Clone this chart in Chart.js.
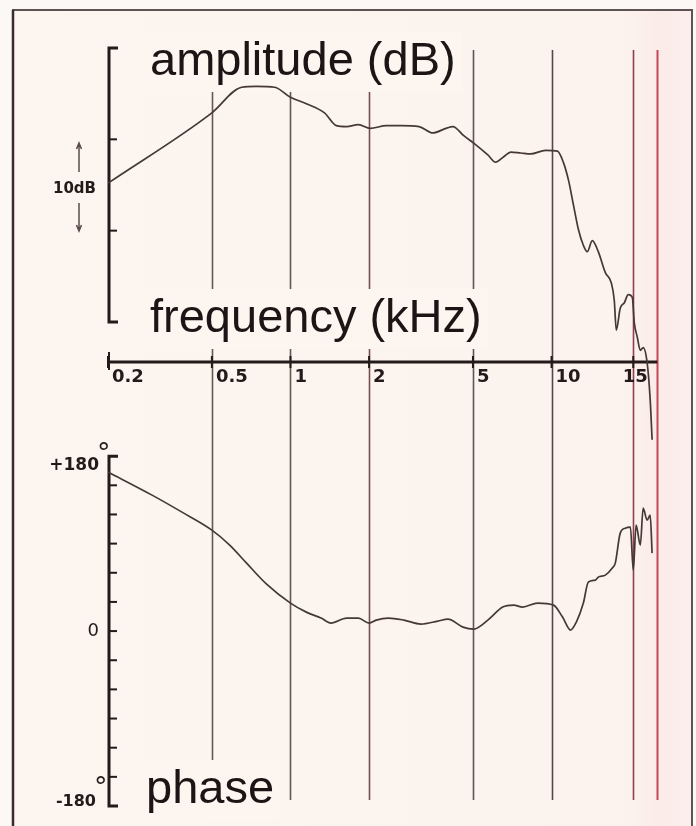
<!DOCTYPE html>
<html>
<head>
<meta charset="utf-8">
<title>amplitude / phase</title>
<script src="https://cdn.jsdelivr.net/npm/chart.js@4.4.1/dist/chart.umd.min.js"></script>
<style>
  html, body { margin: 0; padding: 0; background: #fbf8f5; }
  canvas { display: block; }
</style>
</head>
<body>
<canvas id="plot" width="696" height="826"></canvas>
<script>
'use strict';

// amplitude response, kHz / dB
const ampKHz = [0.2, 0.5, 0.65, 0.74, 0.87, 1.0, 1.15, 1.35, 1.5, 1.64, 1.82, 2.02, 2.33, 2.65, 3.11,
  3.51, 3.94, 4.19, 4.61, 5.13, 5.7, 6.11, 6.56, 6.98, 7.62, 8.32, 9.49, 10.3, 10.6, 10.88, 11.15,
  11.43, 11.71, 11.94, 12.24, 12.61, 13.06, 13.45, 13.65, 13.79, 14.06, 14.35, 14.63, 14.93, 15.19,
  15.72, 16.32, 16.89, 17.7, 18.37, 18.8];
const ampDb = [15.2, 22.9, 25.7, 25.8, 25.7, 24.6, 23.9, 22.9, 21.5, 21.4, 21.6, 21.2, 21.5, 21.5, 21.4,
  20.7, 21.2, 21.4, 20.4, 19.4, 18.3, 17.5, 18.1, 18.6, 18.5, 18.4, 18.8, 18.7, 17.5, 15.5, 12.8,
  10.1, 8.4, 7.7, 8.9, 7.7, 5.4, 4.3, 2.4, -0.9, 1.5, 2.1, 3.0, 2.7, -0.1,
  -1.6, -3.1, -2.8, -4.4, -8.5, -12.9];

// phase response, kHz / degrees
const phaseKHz = [0.2, 0.295, 0.384, 0.5, 0.585, 0.679, 0.81, 1.0, 1.15, 1.31, 1.43, 1.64, 1.82, 2.0,
  2.13, 2.37, 2.72, 3.16, 3.67, 4.01, 4.58, 5.04, 5.7, 6.5, 7.16, 7.75, 8.84, 10.1, 10.56, 10.99,
  11.31, 11.71, 12.0, 12.43, 12.61, 13.06, 13.52, 13.72, 14.06, 14.41, 14.79, 15.0, 15.52, 16.32,
  16.89, 17.7, 18.37, 18.8];
const phaseDeg = [163.6, 139.9, 122.4, 103.9, 88.5, 69.9, 48.3, 28.8, 19.5, 13.4, 8.2, 13.4, 13.4, 8.2,
  11.3, 13.4, 11.3, 7.2, 10.3, 12.3, 4.1, 2.1, 11.3, 24.7, 26.7, 24.7, 28.8, 26.7, 14.4, 1.0,
  9.3, 28.8, 50.4, 52.5, 55.5, 57.6, 64.8, 69.9, 100.8, 105.9, 107.0, 62.7, 109.0, 88.5,
  126.5, 114.2, 119.3, 80.2];

// frequency axis
const tickKHz = [0.2, 0.5, 1, 2, 5, 10, 15];
const tickLabels = ['0.2', '0.5', '1', '2', '5', '10', '15'];
const gridKHz = [0.5, 1, 2, 5, 10, 15, 20];
const gridColors = ['#66574f', '#63554f', '#73504f', '#62535a', '#544745', '#8e4049', '#c64857'];

// amplitude axis: 30 dB, ticks every 10 dB
const ampTicks = [0, 10, 20, 30];
// phase axis: -180..+180, ticks every 30 degrees
const phaseTicks = [-180, -150, -120, -90, -60, -30, 0, 30, 60, 90, 120, 150, 180];

// the recorder paper is log up to 10 kHz, the top end is spread out
const paperKHz = [10, 15, 20];
const paperPos = [1, 1.313, 1.405];

function paperX(f) {
  if (f <= paperKHz[0]) return Math.log10(f);
  for (let i = 1; i < paperKHz.length; i++) {
    if (f <= paperKHz[i] || i === paperKHz.length - 1) {
      const a = Math.log10(paperKHz[i - 1]);
      const b = Math.log10(paperKHz[i]);
      return paperPos[i - 1] + (Math.log10(f) - a) / (b - a) * (paperPos[i] - paperPos[i - 1]);
    }
  }
}

function toPoints(xs, ys) {
  return xs.map((f, i) => ({ x: paperX(f), y: ys[i] }));
}

const INK = '#241a1a';
const TITLE_FONT = '47px "Liberation Sans", Arial, sans-serif';

// title with a paper-coloured box behind it so grid lines stop short of it
function title(ctx, text, x, baseline, bg) {
  ctx.font = TITLE_FONT;
  const w = ctx.measureText(text).width;
  ctx.fillStyle = bg;
  ctx.fillRect(x - 6, baseline - 43, w + 12, 60);
  ctx.fillStyle = '#1c1515';
  ctx.textAlign = 'left';
  ctx.textBaseline = 'alphabetic';
  ctx.fillText(text, x, baseline);
}

// vertical bracket axis with ticks pointing inwards
function bracketAxis(ctx, x, scale, ticks) {
  const top = scale.getPixelForValue(ticks[ticks.length - 1]);
  const bottom = scale.getPixelForValue(ticks[0]);
  ctx.strokeStyle = INK;
  ctx.lineWidth = 3;
  ctx.beginPath();
  ctx.moveTo(x + 9, top);
  ctx.lineTo(x, top);
  ctx.lineTo(x, bottom);
  ctx.lineTo(x + 9, bottom);
  ctx.stroke();
  ctx.lineWidth = 2;
  ticks.slice(1, -1).forEach(v => {
    const y = scale.getPixelForValue(v);
    ctx.beginPath();
    ctx.moveTo(x, y);
    ctx.lineTo(x + 8, y);
    ctx.stroke();
  });
}

function arrow(ctx, x, y0, y1) {
  const dir = y1 < y0 ? -1 : 1;
  ctx.beginPath();
  ctx.moveTo(x, y0);
  ctx.lineTo(x, y1);
  ctx.moveTo(x - 2.5, y1 - dir * 6);
  ctx.lineTo(x, y1);
  ctx.lineTo(x + 2.5, y1 - dir * 6);
  ctx.stroke();
}

const paperPlugin = {
  id: 'paper',
  beforeDraw(chart) {
    const ctx = chart.ctx;
    ctx.save();
    ctx.fillStyle = '#fbf8f5';
    ctx.fillRect(0, 0, chart.width, chart.height);
    const g = ctx.createLinearGradient(13, 0, 692, 0);
    g.addColorStop(0, '#fcf5f0');
    g.addColorStop(0.9, '#fcf3ee');
    g.addColorStop(0.95, '#fbebe9');
    g.addColorStop(1, '#fbefec');
    ctx.fillStyle = g;
    ctx.fillRect(13, 10, 679, chart.height - 10);

    // frame
    ctx.lineWidth = 2;
    ctx.strokeStyle = '#5e5353';
    ctx.beginPath();
    ctx.moveTo(13, chart.height);
    ctx.lineTo(13, 10);
    ctx.lineTo(692, 10);
    ctx.lineTo(692, chart.height);
    ctx.stroke();
    ctx.lineWidth = 2.5;
    ctx.strokeStyle = '#3a2c2c';
    ctx.beginPath();
    ctx.moveTo(13, 10);
    ctx.lineTo(13, chart.height);
    ctx.stroke();
    ctx.restore();
  },
  beforeDatasetsDraw(chart) {
    const ctx = chart.ctx;
    const xs = chart.scales.x;
    const ya = chart.scales.yAmp;
    const yp = chart.scales.yPhase;
    const bg = '#fcf5f0';
    ctx.save();

    // vertical frequency lines
    const gridTop = ya.getPixelForValue(30) + 2;
    const gridBottom = yp.getPixelForValue(-180) - 6;
    gridKHz.forEach((f, i) => {
      const x = Math.round(xs.getPixelForValue(paperX(f))) + 0.5;
      ctx.strokeStyle = gridColors[i];
      ctx.lineWidth = i === gridKHz.length - 1 ? 2 : 1.6;
      ctx.beginPath();
      ctx.moveTo(x, gridTop);
      ctx.lineTo(x, gridBottom);
      ctx.stroke();
    });

    title(ctx, 'amplitude (dB)', 150, 75, bg);
    title(ctx, 'frequency (kHz)', 150, 332, bg);
    title(ctx, 'phase', 146, 803, bg);

    // amplitude and phase axes
    const axisX = xs.left + 1;
    bracketAxis(ctx, axisX, ya, ampTicks);
    bracketAxis(ctx, axisX, yp, phaseTicks);

    // 10 dB scale marker
    ctx.fillStyle = INK;
    ctx.strokeStyle = '#5a4c4a';
    ctx.lineWidth = 1.5;
    arrow(ctx, 79, 172, 143);
    arrow(ctx, 79, 203, 231);
    ctx.font = 'bold 15px "DejaVu Sans", sans-serif';
    ctx.textAlign = 'right';
    ctx.textBaseline = 'middle';
    ctx.fillText('10dB', 96, 189);

    // phase labels
    ctx.font = 'bold 17px "DejaVu Sans", sans-serif';
    ctx.textBaseline = 'alphabetic';
    ctx.fillText('+180', 99, yp.getPixelForValue(180) + 14);
    ctx.font = 'bold 16px "DejaVu Sans", sans-serif';
    ctx.fillText('-180', 96, yp.getPixelForValue(-180));
    ctx.font = '18px "DejaVu Sans", sans-serif';
    ctx.textBaseline = 'middle';
    ctx.fillText('0', 99, yp.getPixelForValue(0));
    ctx.font = '27px "DejaVu Sans", sans-serif';
    ctx.textAlign = 'left';
    ctx.textBaseline = 'top';
    ctx.fillText('°', 97, yp.getPixelForValue(180) - 15);
    ctx.fillText('°', 94, yp.getPixelForValue(-180) - 31);

    // frequency axis across the middle
    const axisY = 362;
    const xEnd = xs.getPixelForValue(paperX(20));
    ctx.strokeStyle = INK;
    ctx.lineWidth = 3;
    ctx.beginPath();
    ctx.moveTo(axisX - 1, axisY);
    ctx.lineTo(xEnd, axisY);
    ctx.stroke();
    ctx.lineWidth = 2;
    ctx.beginPath();
    ctx.moveTo(axisX, axisY - 10);
    ctx.lineTo(axisX, axisY + 8);
    ctx.stroke();
    ctx.font = 'bold 18px "DejaVu Sans", sans-serif';
    ctx.textBaseline = 'top';
    tickKHz.forEach((f, i) => {
      const x = xs.getPixelForValue(paperX(f));
      ctx.beginPath();
      ctx.moveTo(x, axisY - 6);
      ctx.lineTo(x, axisY + 6);
      ctx.stroke();
      const last = i === tickKHz.length - 1;
      ctx.textAlign = last ? 'center' : 'left';
      ctx.fillText(tickLabels[i], last ? x + 2 : x + 4, axisY + 6);
    });
    ctx.restore();
  }
};

const lineStyle = {
  borderColor: '#453835',
  borderWidth: 1.7,
  pointRadius: 0,
  cubicInterpolationMode: 'monotone',
  fill: false
};

new Chart(document.getElementById('plot'), {
  type: 'line',
  data: {
    datasets: [
      Object.assign({ label: 'amplitude', data: toPoints(ampKHz, ampDb), yAxisID: 'yAmp' }, lineStyle),
      Object.assign({ label: 'phase', data: toPoints(phaseKHz, phaseDeg), yAxisID: 'yPhase' }, lineStyle)
    ]
  },
  options: {
    responsive: false,
    animation: false,
    devicePixelRatio: 1,
    layout: { padding: { left: 108, right: 4, top: 48, bottom: 20 } },
    plugins: { legend: { display: false }, tooltip: { enabled: false } },
    scales: {
      x: { type: 'linear', display: false, min: paperX(0.2), max: 1.538 },
      yAmp: { type: 'linear', display: false, min: -53, max: 30 },
      yPhase: { type: 'linear', display: false, min: -180, max: 600 }
    }
  },
  plugins: [paperPlugin]
});
</script>
</body>
</html>
